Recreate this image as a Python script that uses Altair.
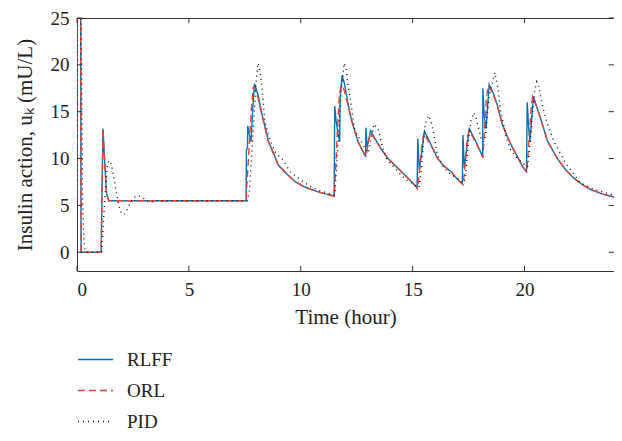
import altair as alt
import pandas as pd

# ---- data ----
series_names = ["RLFF", "ORL", "PID"]
series_colors = ["#0072BD", "#E8412F", "#111111"]
series_dashes = [[1, 0], [7, 4], [1, 4]]

x_ticks = [0, 5, 10, 15, 20]
y_ticks = [0, 5, 10, 15, 20, 25]

rlff = [(0, 5.5), (0.02, 30), (0.16, 30), (0.18, 0), (1.08, 0), (1.16, 13.2), (1.24, 9.5),
        (1.32, 6.3), (1.42, 5.5), (7.52, 5.5), (7.56, 5.5), (7.57, 10.9), (7.62, 11.2),
        (7.63, 13.5), (7.70, 12.6), (7.78, 11.8), (7.86, 15.5), (7.93, 18.0), (8.10, 16.7),
        (8.25, 14.9), (8.55, 11.9), (9.00, 9.3), (9.40, 8.3), (9.74, 7.56), (10.10, 7.05),
        (10.48, 6.69), (10.85, 6.4), (11.22, 6.16), (11.49, 5.99), (11.52, 15.6), (11.58, 14.0),
        (11.68, 12.5), (11.74, 11.8), (11.76, 16.5), (11.85, 18.9), (11.95, 18.0), (12.10, 16.0),
        (12.26, 14.2), (12.56, 11.8), (12.86, 10.4), (12.90, 10.2), (12.91, 13.3), (12.97, 11.2),
        (13.12, 13.0), (13.30, 12.2), (13.60, 11.0), (13.90, 10.0), (14.20, 9.3), (14.50, 8.6),
        (14.80, 7.9), (15.00, 7.4), (15.20, 6.9), (15.23, 12.1), (15.30, 8.8), (15.53, 12.9),
        (15.80, 11.6), (16.12, 10.0), (16.40, 9.2), (16.72, 8.6), (17.00, 7.8), (17.22, 7.3),
        (17.25, 12.5), (17.31, 9.0), (17.53, 13.2), (17.83, 11.8), (18.13, 10.2), (18.14, 17.5),
        (18.20, 14.5), (18.28, 13.2), (18.42, 17.9), (18.60, 17.0), (18.80, 15.6), (19.00, 13.7),
        (19.24, 12.3), (19.50, 11.0), (19.69, 10.2), (19.90, 9.2), (20.09, 8.6), (20.12, 16.0),
        (20.18, 13.5), (20.24, 11.8), (20.40, 16.6), (20.55, 15.5), (20.73, 14.2), (21.02, 11.9),
        (21.47, 10.0), (21.84, 8.8), (22.21, 7.9), (22.60, 7.2), (22.95, 6.7), (23.50, 6.2),
        (24.00, 5.9)]

orl = [(0, 5.5), (0.02, 30), (0.16, 30), (0.19, 0), (1.08, 0), (1.16, 13.2), (1.24, 9.5),
       (1.32, 6.3), (1.42, 5.5), (7.55, 5.5), (7.60, 7.5), (7.70, 11.5), (7.80, 15.5),
       (7.88, 17.6), (7.95, 17.5), (8.10, 16.4), (8.25, 14.8), (8.55, 11.8), (9.00, 9.3),
       (9.40, 8.3), (9.74, 7.56), (10.10, 7.05), (10.48, 6.69), (10.85, 6.4), (11.22, 6.16),
       (11.50, 5.98), (11.55, 8.5), (11.65, 13.5), (11.72, 16.5), (11.80, 17.8), (11.90, 17.6),
       (12.10, 15.9), (12.26, 14.1), (12.56, 11.8), (12.86, 10.4), (12.92, 10.2), (13.00, 11.5),
       (13.12, 12.8), (13.30, 12.1), (13.60, 11.0), (13.90, 10.0), (14.20, 9.3), (14.50, 8.6),
       (14.80, 7.9), (15.00, 7.4), (15.22, 6.8), (15.30, 8.5), (15.40, 11.2), (15.50, 12.7),
       (15.80, 11.5), (16.12, 10.0), (16.40, 9.2), (16.72, 8.6), (17.00, 7.8), (17.26, 7.2),
       (17.35, 9.5), (17.45, 12.3), (17.53, 13.0), (17.83, 11.7), (18.14, 10.1), (18.22, 13.5),
       (18.30, 16.5), (18.38, 17.8), (18.60, 16.9), (18.80, 15.5), (19.00, 13.7), (19.24, 12.3),
       (19.50, 11.0), (19.69, 10.2), (19.90, 9.2), (20.10, 8.5), (20.20, 12.0), (20.30, 15.5),
       (20.36, 16.6), (20.55, 15.5), (20.73, 14.2), (21.02, 11.9), (21.47, 10.0), (21.84, 8.8),
       (22.21, 7.9), (22.60, 7.2), (22.95, 6.7), (23.50, 6.2), (24.00, 5.9)]

pid = [(0, 5.5), (0.02, 30), (0.16, 30), (0.18, 25), (0.23, 12), (0.25, 5.5), (0.30, 1.8),
       (0.34, 0.5), (0.40, 0), (1.10, 0), (1.15, 2.0), (1.25, 6.0), (1.35, 9.2), (1.43, 9.8),
       (1.50, 9.6), (1.57, 9.0), (1.63, 8.2), (1.70, 7.3), (1.75, 6.5), (1.80, 5.9), (1.88, 4.9),
       (1.96, 4.3), (2.10, 4.0), (2.20, 4.3), (2.30, 4.9), (2.42, 5.4), (2.58, 5.9), (2.75, 6.05),
       (2.95, 5.8), (3.20, 5.3), (3.60, 5.5), (7.60, 5.5), (7.70, 6.5), (7.80, 10.0), (7.90, 14.0),
       (7.98, 17.5), (8.08, 20.2), (8.15, 19.8), (8.21, 18.8), (8.30, 16.7), (8.40, 13.9),
       (8.55, 12.5), (8.85, 10.7), (9.22, 9.8), (9.52, 8.6), (10.00, 7.7), (10.50, 6.9),
       (11.20, 6.3), (11.52, 6.1), (11.60, 9.0), (11.70, 13.0), (11.80, 17.0), (11.94, 20.2),
       (12.04, 19.5), (12.10, 18.1), (12.19, 16.7), (12.26, 15.6), (12.34, 14.2), (12.41, 13.0),
       (12.71, 11.8), (13.02, 10.6), (13.12, 11.8), (13.27, 13.7), (13.45, 13.2), (13.67, 11.1),
       (13.82, 10.0), (14.27, 8.8), (14.67, 7.8), (15.08, 7.2), (15.28, 6.9), (15.38, 8.5),
       (15.47, 11.5), (15.57, 13.8), (15.72, 14.6), (15.83, 13.9), (15.92, 13.0), (16.00, 11.8),
       (16.10, 10.4), (16.40, 9.0), (16.70, 8.3), (17.00, 7.9), (17.30, 7.4), (17.40, 9.0),
       (17.50, 12.0), (17.60, 14.0), (17.73, 14.9), (17.83, 14.4), (17.90, 13.7), (17.98, 13.0),
       (18.08, 11.9), (18.20, 11.8), (18.28, 13.0), (18.35, 14.9), (18.42, 16.7), (18.57, 18.1),
       (18.67, 19.2), (18.80, 17.7), (18.87, 16.3), (18.94, 14.9), (19.06, 13.7), (19.20, 12.1),
       (19.39, 10.9), (19.69, 10.0), (19.87, 9.6), (20.13, 9.1), (20.25, 11.5), (20.35, 14.5),
       (20.45, 17.2), (20.55, 18.2), (20.65, 17.6), (20.75, 16.3), (20.88, 14.9), (21.02, 13.7),
       (21.32, 11.8), (21.84, 9.5), (22.50, 7.4), (23.10, 6.7), (23.70, 6.3), (24.00, 6.1)]

# ---- build table ----
rows = []
for name, pts in zip(series_names, [rlff, orl, pid]):
    for i, (t, v) in enumerate(pts):
        rows.append({"series": name, "t": t, "v": v, "idx": i})
df = pd.DataFrame(rows)

FONT = "Liberation Serif"
TXT = "#222222"
FRAME = "#333333"

xscale = alt.Scale(domain=[0, 24], nice=False, zero=False)
yscale = alt.Scale(domain=[-2, 25], nice=False, zero=False)

x_axis = alt.Axis(values=x_ticks, title="Time (hour)", labelPadding=9, titlePadding=7)
y_axis = alt.Axis(values=y_ticks, title="Insulin action, uₖ (mU/L)",
                  labelPadding=8, titlePadding=15)

legend = alt.Legend(title=None, orient="none", legendX=0, legendY=323)

lines = alt.Chart(df).mark_line(clip=True, strokeWidth=1.4).encode(
    x=alt.X("t:Q", scale=xscale, axis=x_axis),
    y=alt.Y("v:Q", scale=yscale, axis=y_axis),
    color=alt.Color("series:N",
                    scale=alt.Scale(domain=series_names, range=series_colors),
                    legend=legend),
    strokeDash=alt.StrokeDash("series:N",
                              scale=alt.Scale(domain=series_names, range=series_dashes),
                              legend=legend),
    order=alt.Order("idx:Q"),
)

xt_df = pd.DataFrame({"t": x_ticks})
yt_df = pd.DataFrame({"v": y_ticks})

tick_bottom = alt.Chart(xt_df).mark_rule(color=FRAME, strokeWidth=1).encode(
    x=alt.X("t:Q", scale=xscale, axis=x_axis),
    y=alt.YDatum(-2, axis=y_axis), y2=alt.Y2Datum(-1.45))
tick_top = alt.Chart(xt_df).mark_rule(color=FRAME, strokeWidth=1).encode(
    x=alt.X("t:Q", scale=xscale, axis=x_axis),
    y=alt.YDatum(25, axis=y_axis), y2=alt.Y2Datum(24.45))
tick_left = alt.Chart(yt_df).mark_rule(color=FRAME, strokeWidth=1).encode(
    y=alt.Y("v:Q", scale=yscale, axis=y_axis),
    x=alt.XDatum(0, axis=x_axis), x2=alt.X2Datum(0.24))
tick_right = alt.Chart(yt_df).mark_rule(color=FRAME, strokeWidth=1).encode(
    y=alt.Y("v:Q", scale=yscale, axis=y_axis),
    x=alt.XDatum(24, axis=x_axis), x2=alt.X2Datum(23.76))

chart = alt.layer(lines, tick_bottom, tick_top, tick_left, tick_right).properties(
    width=537, height=253,
    autosize=alt.AutoSizeParams(type="none"),
    padding={"left": 69, "top": 10, "right": 0, "bottom": 161},
    background="white",
).configure_view(
    stroke=FRAME, strokeWidth=1
).configure_axis(
    domain=False, ticks=False, grid=False,
    labelFont=FONT, labelFontSize=19, labelColor=TXT,
    titleFont=FONT, titleFontSize=21, titleColor=TXT, titleFontWeight="normal",
).configure_legend(
    labelFont=FONT, labelFontSize=19, labelColor=TXT,
    symbolType="stroke", symbolSize=1225, symbolStrokeWidth=1.5,
    labelOffset=13, rowPadding=2, padding=0,
)

chart.save("out.html", embed_options={"renderer": "svg", "actions": False})
